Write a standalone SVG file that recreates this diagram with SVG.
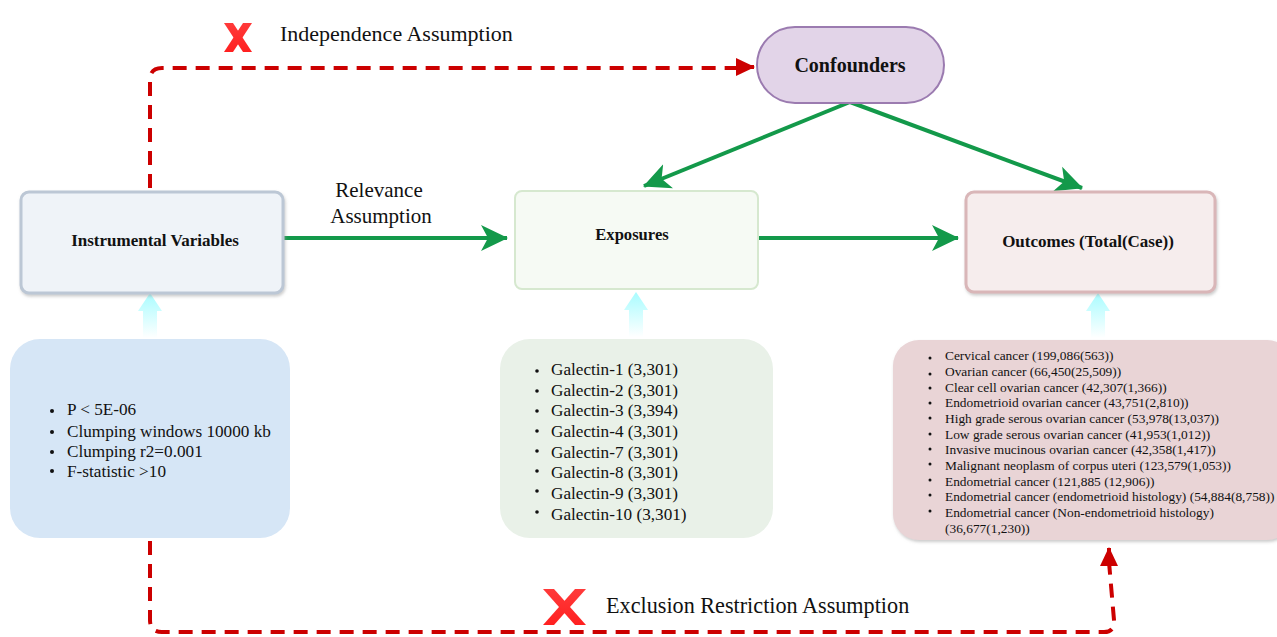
<svg xmlns="http://www.w3.org/2000/svg" width="1277" height="637" viewBox="0 0 1277 637">
<style>
.t{font-family:"Liberation Serif","Times New Roman",serif;fill:#111}
.b{font-weight:bold}
.g{stroke:#13994a;stroke-width:4;fill:none}
.r{stroke:#cc0000;stroke-width:4;fill:none;stroke-dasharray:14 9}
.li{font-size:17.2px}
.lo{font-size:13.4px}
</style>
<defs>
<marker id="ga" markerUnits="userSpaceOnUse" markerWidth="30" markerHeight="28" refX="26" refY="14" orient="auto">
<path d="M0,1 L27,14 L0,27 L7,14 Z" fill="#13994a"/>
</marker>
<marker id="ra" markerUnits="userSpaceOnUse" markerWidth="22" markerHeight="22" refX="18" refY="11" orient="auto">
<path d="M0,2 L19,11 L0,20 Z" fill="#cc0000"/>
</marker>
<linearGradient id="cy" x1="0" y1="0" x2="0" y2="1">
<stop offset="0" stop-color="#a8fcff"/>
<stop offset="1" stop-color="#ffffff"/>
</linearGradient>
<linearGradient id="xg" x1="0" y1="0" x2="0" y2="1">
<stop offset="0" stop-color="#ff3a3a"/>
<stop offset="1" stop-color="#ff2020"/>
</linearGradient>
<filter id="sh" x="-5%" y="-5%" width="110%" height="115%">
<feDropShadow dx="1" dy="2" stdDeviation="1.5" flood-color="#999" flood-opacity="0.5"/>
</filter>
<path id="up" d="M-7,45 V18 H-12 L0,0 L12,18 H7 V45 Z"/>
</defs>

<g id="connectors">
<path class="r" d="M150,188 V80 Q150,68 162,68 H738"/>
<path d="M740,67 L754,67" stroke="#cc0000" stroke-width="4" fill="none" marker-end="url(#ra)"/>
<path class="r" d="M150,541 V620 Q150,632 162,632 H1104 Q1115,632 1114,620 L1109,562" />
<path d="M1109,564 L1109,548" stroke="#cc0000" stroke-width="4" fill="none" marker-end="url(#ra)"/>
<path class="g" d="M283,238 H507" marker-end="url(#ga)"/>
<path class="g" d="M758,238 H958" marker-end="url(#ga)"/>
<path class="g" d="M850,102 L644,186" marker-end="url(#ga)"/>
<path class="g" d="M850,102 L1082,188" marker-end="url(#ga)"/>
<use href="#up" x="150" y="293" fill="url(#cy)"/>
<use href="#up" x="636" y="292" fill="url(#cy)"/>
<use href="#up" x="1098" y="293" fill="url(#cy)"/>
</g>

<g id="labels">
<g id="x1" fill="url(#xg)">
<path d="M224,23 H233 L252,52 H243 Z"/>
<path d="M252,23 H243 L224,52 H233 Z"/>
</g>
<text class="t" x="280" y="41" font-size="22">Independence Assumption</text>
<text class="t" x="379" y="197" font-size="21" text-anchor="middle">Relevance</text>
<text class="t" x="381" y="223" font-size="21" text-anchor="middle">Assumption</text>
<g id="x2" fill="url(#xg)">
<path d="M543,589 H554 L586,625 H575 Z"/>
<path d="M586,589 H575 L543,625 H554 Z"/>
</g>
<text class="t" x="606" y="613" font-size="22.2">Exclusion Restriction Assumption</text>
</g>

<g id="confounders">
<rect x="757" y="27" width="187" height="76" rx="38" fill="#e2d4e8" stroke="#9b7bb0" stroke-width="2"/>
<text class="t b" x="850" y="72" font-size="20" text-anchor="middle">Confounders</text>
</g>

<g id="instrumental-variables">
<rect x="21" y="192" width="262" height="101" rx="8" fill="#eff3f8" stroke="#bcc7d5" stroke-width="3" filter="url(#sh)"/>
<text class="t b" x="155" y="246" font-size="17" text-anchor="middle" fill="#333">Instrumental Variables</text>
</g>

<g id="exposures">
<rect x="515" y="191" width="243" height="98" rx="7" fill="#f6faf4" stroke="#d6e8cf" stroke-width="2"/>
<text class="t b" x="632" y="240" font-size="16.6" text-anchor="middle">Exposures</text>
</g>

<g id="outcomes">
<rect x="966" y="192" width="249" height="100" rx="8" fill="#f6eded" stroke="#d9b6b8" stroke-width="3" filter="url(#sh)"/>
<text class="t b" x="1088" y="247" font-size="17" text-anchor="middle">Outcomes (Total(Case))</text>
</g>

<g id="iv-criteria">
<rect x="10" y="339" width="280" height="199" rx="30" fill="#d6e6f6"/>
<g class="t li">
<text x="67" y="415">P &lt; 5E-06</text>
<text x="67" y="437">Clumping windows 10000 kb</text>
<text x="67" y="457">Clumping r2=0.001</text>
<text x="67" y="477">F-statistic &gt;10</text>
</g>
<g fill="#111">
<circle cx="52" cy="411" r="2"/>
<circle cx="52" cy="432" r="2"/>
<circle cx="52" cy="452" r="2"/>
<circle cx="52" cy="471" r="2"/>
</g>
</g>

<g id="exposure-list">
<rect x="500" y="339" width="273" height="199" rx="30" fill="#e9f1e8"/>
<g class="t li">
<text x="551" y="375">Galectin-1 (3,301)</text>
<text x="551" y="396">Galectin-2 (3,301)</text>
<text x="551" y="416">Galectin-3 (3,394)</text>
<text x="551" y="437">Galectin-4 (3,301)</text>
<text x="551" y="458">Galectin-7 (3,301)</text>
<text x="551" y="478">Galectin-8 (3,301)</text>
<text x="551" y="499">Galectin-9 (3,301)</text>
<text x="551" y="520">Galectin-10 (3,301)</text>
</g>
<g fill="#111">
<circle cx="537" cy="371" r="1.8"/>
<circle cx="537" cy="391" r="1.8"/>
<circle cx="537" cy="411" r="1.8"/>
<circle cx="537" cy="431" r="1.8"/>
<circle cx="537" cy="451" r="1.8"/>
<circle cx="537" cy="471" r="1.8"/>
<circle cx="537" cy="491" r="1.8"/>
<circle cx="537" cy="512" r="1.8"/>
</g>
</g>

<g id="outcome-list">
<rect x="893" y="340" width="400" height="200" rx="26" fill="#e9d4d6" filter="url(#sh)"/>
<g class="t lo">
<text x="945" y="360">Cervical cancer (199,086(563))</text>
<text x="945" y="376">Ovarian cancer (66,450(25,509))</text>
<text x="945" y="392">Clear cell ovarian cancer (42,307(1,366))</text>
<text x="945" y="407">Endometrioid ovarian cancer (43,751(2,810))</text>
<text x="945" y="423">High grade serous ovarian cancer (53,978(13,037))</text>
<text x="945" y="439">Low grade serous ovarian cancer (41,953(1,012))</text>
<text x="945" y="454">Invasive mucinous ovarian cancer (42,358(1,417))</text>
<text x="945" y="470">Malignant neoplasm of corpus uteri (123,579(1,053))</text>
<text x="945" y="486">Endometrial cancer (121,885 (12,906))</text>
<text x="945" y="501">Endometrial cancer (endometrioid histology) (54,884(8,758))</text>
<text x="945" y="517">Endometrial cancer (Non-endometrioid histology)</text>
<text x="945" y="533">(36,677(1,230))</text>
</g>
<g fill="#111">
<circle cx="930" cy="358" r="1.5"/>
<circle cx="930" cy="374" r="1.5"/>
<circle cx="930" cy="388" r="1.5"/>
<circle cx="930" cy="403" r="1.5"/>
<circle cx="930" cy="418" r="1.5"/>
<circle cx="930" cy="434" r="1.5"/>
<circle cx="930" cy="449" r="1.5"/>
<circle cx="930" cy="464" r="1.5"/>
<circle cx="930" cy="480" r="1.5"/>
<circle cx="930" cy="495" r="1.5"/>
<circle cx="930" cy="511" r="1.5"/>
</g>
</g>
</svg>
